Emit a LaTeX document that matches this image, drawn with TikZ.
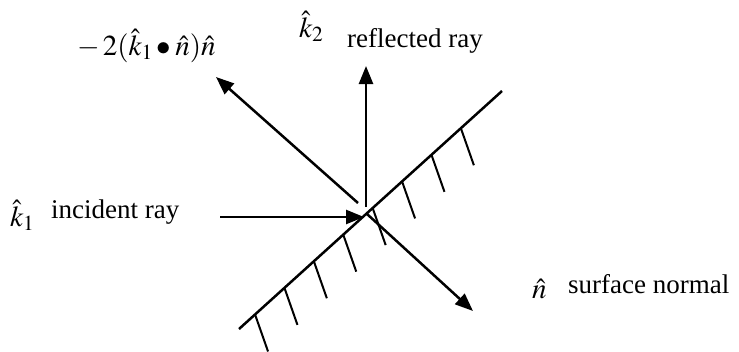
\documentclass[tikz,border=0pt]{standalone}
\usepackage{mathptmx}
\usepackage{fontspec}
\setmainfont{Liberation Serif}
\usepackage{tikz}
\usetikzlibrary{arrows.meta, positioning, calc}

\begin{document}
\begin{tikzpicture}[
  x=1pt, y=-1pt,
  ray/.style={line width=2.5pt, -{Triangle[length=18pt, width=14pt]}},
  hatch/.style={line width=2pt},
  lbl/.style={font=\fontsize{27}{32}\selectfont, inner sep=0pt, anchor=base west},
  sym/.style={font=\fontsize{29}{35}\selectfont, inner sep=0pt, anchor=base west},
]
  \useasboundingbox (0,0) rectangle (739,351);

  % mirror surface
  \coordinate (mlow) at (239,329);
  \coordinate (mhigh) at (502,91);
  \draw[line width=2.5pt] (mlow) -- (mhigh);
  \foreach \i in {0,...,7} {
    \coordinate (h\i) at ($(mlow)!0.061+\i*0.1118!(mhigh)$);
    \draw[hatch] (h\i) -- ++(13,37);
  }

  % rays
  \coordinate (hit) at (364,217);
  \coordinate (inc) at (220,217);
  \coordinate (reflbase) at (366,207);
  \coordinate (refltip) at (366,66);
  \coordinate (corrbase) at (358,203);
  \coordinate (corrtip) at (216,77);
  \coordinate (normbase) at (367,214);
  \coordinate (normtip) at (473,311);
  \draw[ray] (inc) -- (hit);
  \draw[ray] (reflbase) -- (refltip);
  \draw[ray] (corrbase) -- (corrtip);
  \draw[ray] (normbase) -- (normtip);

  % labels
  \node[sym] (corr) at (77,55) {$-\,2(\hat{k}_1\bullet\hat{n})\hat{n}$};
  \node[sym] (k2) at (299,37) {$\hat{k}_2$};
  \node[lbl] (k2txt) at (347,47) {reflected ray};
  \node[sym] (k1) at (10,226) {$\hat{k}_1$};
  \node[lbl] (k1txt) at (51,218) {incident ray};
  \node[sym] (nn) at (532,298) {$\hat{n}$};
  \node[lbl] (nntxt) at (568,293) {surface normal};
\end{tikzpicture}
\end{document}
